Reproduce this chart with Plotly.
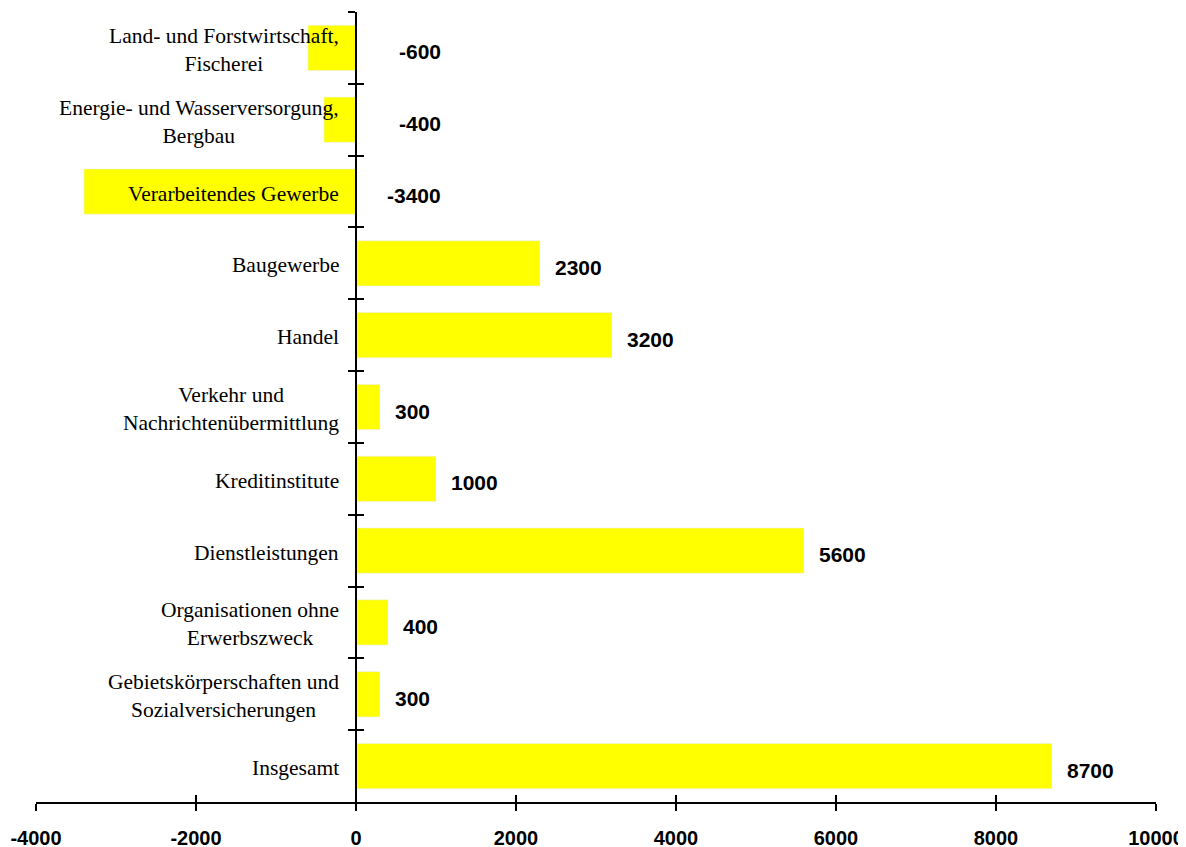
import plotly.graph_objects as go

categories = [
    "Land- und Forstwirtschaft,<br>Fischerei",
    "Energie- und Wasserversorgung,<br>Bergbau",
    "Verarbeitendes Gewerbe",
    "Baugewerbe",
    "Handel",
    "Verkehr und<br>Nachrichtenübermittlung",
    "Kreditinstitute",
    "Dienstleistungen",
    "Organisationen ohne<br>Erwerbszweck",
    "Gebietskörperschaften und<br>Sozialversicherungen",
    "Insgesamt",
]
values = [-600, -400, -3400, 2300, 3200, 300, 1000, 5600, 400, 300, 8700]
x_ticks = [-4000, -2000, 0, 2000, 4000, 6000, 8000, 10000]
x_tick_labels = ["-4000", "-2000", "0", "2000", "4000", "6000", "8000", "10000"]

SERIF = "Liberation Serif"
SANS = "Liberation Sans"

fig = go.Figure()
fig.add_trace(go.Bar(
    x=values, y=categories, orientation="h",
    marker=dict(color="#FFFF00", line=dict(width=0)),
    width=0.63, hoverinfo="skip", showlegend=False,
))
# invisible twin trace to carry the overlay axes (for crossing ticks)
fig.add_trace(go.Bar(
    x=values, y=categories, orientation="h",
    marker=dict(color="rgba(0,0,0,0)"), width=0.63,
    xaxis="x2", yaxis="y2", hoverinfo="skip", showlegend=False,
))

annotations = []
for cat, v in zip(categories, values):
    annotations.append(dict(
        x=0, y=cat, xref="x", yref="y", text=cat, showarrow=False,
        xanchor="right", yanchor="middle", align="center", xshift=-15, yshift=-2,
        font=dict(family=SERIF, size=21.5, color="black"),
    ))
    if v >= 0:
        annotations.append(dict(
            x=v, y=cat, xref="x", yref="y", text=str(v), showarrow=False,
            xanchor="left", yanchor="middle", xshift=13, yshift=-4,
            font=dict(family=SANS, size=21, color="black", weight="bold"),
        ))
    else:
        annotations.append(dict(
            x=0, y=cat, xref="x", yref="y", text=str(v), showarrow=False,
            xanchor="right", yanchor="middle", xshift=87, yshift=-4,
            font=dict(family=SANS, size=21, color="black", weight="bold"),
        ))

xcommon = dict(
    range=[x_ticks[0], x_ticks[-1]], tickvals=x_ticks, ticktext=x_tick_labels,
    showgrid=False, zeroline=False, showline=True, linecolor="black", linewidth=2,
    tickcolor="black", tickwidth=2, ticklen=7, automargin=False,
)
ycommon = dict(
    type="category", categoryorder="array", categoryarray=categories,
    range=[len(categories) - 0.5, -0.5], showgrid=False, zeroline=False,
    showline=True, linecolor="black", linewidth=2, tickcolor="black",
    tickwidth=2, ticklen=7, tickson="boundaries", showticklabels=False,
    anchor="free", position=4 / 14, automargin=False,
)

# the page body adds an 8px offset; size/margins compensate for it
fig.update_layout(
    width=1178, height=839,
    margin=dict(l=28, r=30, t=4, b=45),
    plot_bgcolor="white", paper_bgcolor="white",
    showlegend=False,
    xaxis=dict(**xcommon, ticks="outside", anchor="y",
               tickfont=dict(family=SANS, size=20, color="black", weight="bold"),
               ticklabelstandoff=10),
    xaxis2=dict(**xcommon, ticks="inside", anchor="y", overlaying="x",
                side="bottom", showticklabels=False),
    yaxis=dict(**ycommon, ticks="outside"),
    yaxis2=dict(**ycommon, ticks="inside", overlaying="y", side="left"),
    annotations=annotations,
)

fig.write_html("out.html")
